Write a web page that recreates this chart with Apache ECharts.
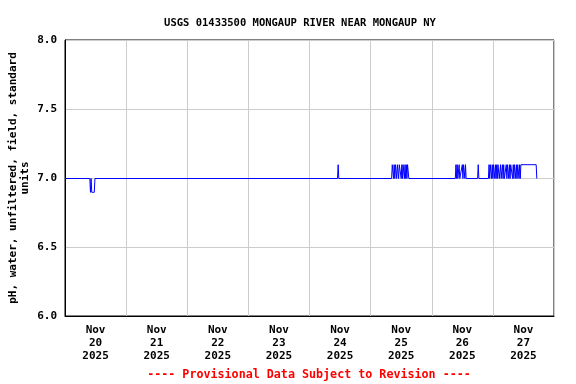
<!DOCTYPE html>
<html>
<head>
<meta charset="utf-8">
<script src="https://cdn.jsdelivr.net/npm/echarts@6/dist/echarts.min.js"></script>
<style>html,body{margin:0;padding:0;background:#fff}#c{width:576px;height:384px}</style>
</head>
<body>
<div id="c"></div>
<script>
const titleText = 'USGS 01433500 MONGAUP RIVER NEAR MONGAUP NY';
const yAxisName = 'pH, water, unfiltered, field, standard\nunits';
const footerText = '---- Provisional Data Subject to Revision ----';
const dayLabels = ['Nov\n20\n2025','Nov\n21\n2025','Nov\n22\n2025','Nov\n23\n2025','Nov\n24\n2025','Nov\n25\n2025','Nov\n26\n2025','Nov\n27\n2025'];
const yTicks = [6.0, 6.5, 7.0, 7.5, 8.0];

// readings (UTC) and pH values; flat runs are given by their end points
const times = [
 '2025-11-20 00:00','2025-11-20 09:45','2025-11-20 10:00','2025-11-20 10:15','2025-11-20 10:30','2025-11-20 10:45','2025-11-20 11:00','2025-11-20 11:15','2025-11-20 11:30','2025-11-20 11:45',
 '2025-11-24 11:00','2025-11-24 11:15','2025-11-24 11:30',
 '2025-11-25 08:15','2025-11-25 08:30','2025-11-25 08:45','2025-11-25 09:00','2025-11-25 09:15','2025-11-25 09:30','2025-11-25 09:45','2025-11-25 10:00','2025-11-25 10:15','2025-11-25 10:30','2025-11-25 10:45','2025-11-25 11:00','2025-11-25 11:15','2025-11-25 11:30','2025-11-25 11:45','2025-11-25 12:00','2025-11-25 12:15','2025-11-25 12:30','2025-11-25 12:45','2025-11-25 13:00','2025-11-25 13:15','2025-11-25 13:30','2025-11-25 13:45','2025-11-25 14:00','2025-11-25 14:15','2025-11-25 14:30','2025-11-25 14:45','2025-11-25 15:00',
 '2025-11-26 09:15','2025-11-26 09:30','2025-11-26 09:45','2025-11-26 10:00','2025-11-26 10:15','2025-11-26 10:30','2025-11-26 10:45','2025-11-26 11:00','2025-11-26 11:45','2025-11-26 12:00','2025-11-26 12:15','2025-11-26 12:30','2025-11-26 12:45','2025-11-26 13:00','2025-11-26 13:15','2025-11-26 13:30',
 '2025-11-26 18:00','2025-11-26 18:15','2025-11-26 18:30',
 '2025-11-26 22:15','2025-11-26 22:30','2025-11-26 22:45','2025-11-26 23:00','2025-11-26 23:15','2025-11-26 23:30','2025-11-26 23:45',
 '2025-11-27 00:00','2025-11-27 00:15','2025-11-27 00:30','2025-11-27 00:45','2025-11-27 01:00','2025-11-27 01:15','2025-11-27 01:30','2025-11-27 01:45','2025-11-27 02:00','2025-11-27 02:15','2025-11-27 02:30','2025-11-27 02:45','2025-11-27 03:00','2025-11-27 03:15','2025-11-27 03:30','2025-11-27 03:45','2025-11-27 04:00','2025-11-27 04:15','2025-11-27 04:30','2025-11-27 05:00','2025-11-27 05:15','2025-11-27 05:30','2025-11-27 05:45','2025-11-27 06:00','2025-11-27 06:15','2025-11-27 06:30','2025-11-27 06:45','2025-11-27 07:00','2025-11-27 07:15','2025-11-27 07:30','2025-11-27 07:45','2025-11-27 08:00','2025-11-27 08:15','2025-11-27 08:30','2025-11-27 08:45','2025-11-27 09:00','2025-11-27 09:15','2025-11-27 09:30','2025-11-27 09:45','2025-11-27 10:00','2025-11-27 10:15','2025-11-27 10:30','2025-11-27 10:45','2025-11-27 11:00','2025-11-27 11:15','2025-11-27 11:30',
 '2025-11-27 17:00','2025-11-27 17:15','2025-11-27 17:30'
];
const values = [
 7.0,7.0,6.9,7.0,6.9,6.9,6.9,6.9,6.9,7.0,
 7.0,7.1,7.0,
 7.0,7.1,7.1,7.0,7.1,7.0,7.1,7.1,7.0,7.1,7.1,7.0,7.1,7.1,7.1,7.0,7.1,7.0,7.1,7.1,7.0,7.1,7.0,7.1,7.0,7.1,7.1,7.0,
 7.0,7.1,7.0,7.1,7.0,7.0,7.1,7.0,7.0,7.1,7.0,7.1,7.1,7.0,7.1,7.0,
 7.0,7.1,7.0,
 7.0,7.1,7.0,7.1,7.1,7.0,7.1,
 7.0,7.1,7.1,7.0,7.1,7.0,7.1,7.0,7.1,7.1,7.0,7.0,7.1,7.0,7.0,7.1,7.0,7.1,7.0,7.0,7.1,7.0,7.1,7.1,7.0,7.1,7.0,7.1,7.1,7.1,7.0,7.1,7.0,7.1,7.1,7.0,7.1,7.0,7.1,7.1,7.0,7.1,7.0,7.1,7.1,7.1,
 7.1,7.0,7.0
];

const toMs = s => Date.parse(s.replace(' ', 'T') + ':00Z');
const seriesData = times.map((t, i) => [toMs(t), values[i]]);
const DAY = 86400000;
const xMin = toMs('2025-11-20 00:00');
const xMax = toMs('2025-11-28 00:00');
const yMin = yTicks[0], yMax = yTicks[yTicks.length - 1];

const FONT = '"DejaVu Sans Mono", monospace';
const chart = echarts.init(document.getElementById('c'), null, {renderer: 'canvas'});
chart.setOption({
  animation: false,
  backgroundColor: '#fff',
  title: {
    text: titleText, left: 295, top: 13, textAlign: 'center',
    textStyle: {fontFamily: FONT, fontWeight: 'bold', fontSize: 10.5, color: '#000'}
  },
  graphic: [{
    type: 'text', x: 309, y: 375,
    style: {text: footerText, fill: '#ff0000', font: 'bold 11.7px ' + FONT, align: 'center', verticalAlign: 'middle'}
  }],
  grid: [
    {left: 65, right: 22, top: 40, bottom: 68, outerBoundsMode: 'none', containLabel: false, show: true, borderColor: '#000', borderWidth: 1, backgroundColor: 'transparent'},
    {left: 65, right: 22, top: 40.5, bottom: 67.5, outerBoundsMode: 'none', containLabel: false, show: false}
  ],
  xAxis: [{
    type: 'value', gridIndex: 0, min: xMin, max: xMax, interval: DAY,
    axisLine: {show: true, lineStyle: {color: '#000'}},
    axisTick: {show: false},
    axisLabel: {show: false},
    splitLine: {show: true, lineStyle: {color: '#cccccc', width: 1}}
  }, {
    type: 'category', gridIndex: 0, data: dayLabels, boundaryGap: true, position: 'bottom',
    axisLine: {show: false}, axisTick: {show: false}, splitLine: {show: false},
    axisLabel: {interval: 0, margin: 8, fontFamily: FONT, fontWeight: 'bold', fontSize: 11, lineHeight: 13, color: '#000'}
  }, {
    type: 'value', gridIndex: 1, min: xMin, max: xMax, show: false, splitLine: {show: false}
  }],
  yAxis: [{
    type: 'value', gridIndex: 0, min: yMin, max: yMax, interval: 0.5,
    name: yAxisName, nameLocation: 'middle', nameRotate: 90, nameGap: 34, nameMoveOverlap: false,
    nameTextStyle: {fontFamily: FONT, fontWeight: 'bold', fontSize: 11, lineHeight: 12, color: '#000'},
    axisLine: {show: true, lineStyle: {color: '#000'}},
    axisTick: {show: false},
    axisLabel: {margin: 8, fontFamily: FONT, fontWeight: 'bold', fontSize: 11, color: '#000', formatter: v => v.toFixed(1)},
    splitLine: {show: true, lineStyle: {color: '#cccccc', width: 1}}
  }, {
    type: 'value', gridIndex: 1, min: yMin, max: yMax, show: false, splitLine: {show: false}
  }],
  series: [{
    type: 'line', xAxisIndex: 2, yAxisIndex: 1, data: seriesData, showSymbol: false, symbol: 'none',
    lineStyle: {color: '#0000ff', width: 1}, itemStyle: {color: '#0000ff'}
  }]
});
</script>
</body>
</html>
